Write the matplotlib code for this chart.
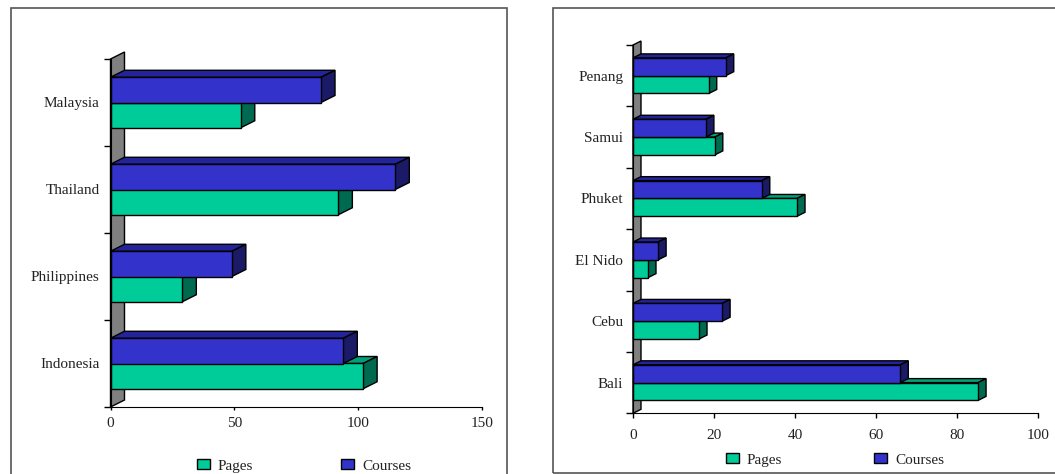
import matplotlib as mpl
mpl.use('Agg')
import matplotlib.pyplot as plt
from matplotlib.patches import Polygon, Patch, Rectangle

W, H = 1055, 474

# left chart
countries = ["Indonesia", "Philippines", "Thailand", "Malaysia"]
country_pages = [102, 29, 92, 52.6]
country_courses = [94, 49, 115, 85]
country_ticks = [0, 50, 100, 150]

# right chart
places = ["Bali", "Cebu", "El Nido", "Phuket", "Samui", "Penang"]
place_pages = [85.2, 16.3, 3.7, 40.5, 20.2, 18.7]
place_courses = [66, 22, 6.2, 31.8, 18, 22.9]
place_ticks = [0, 20, 40, 60, 80, 100]

GREEN = ("#00CC99", "#00A07A", "#006A50")
BLUE = ("#3333CC", "#24249A", "#1A1A66")

plt.rcParams['font.family'] = ['Liberation Serif']

fig = plt.figure(figsize=(W / 100, H / 100), dpi=100)


def add_bar(ax, y, h, val, dx, dy, cols, z):
    # front face is done by barh, these are the top and side faces
    top = Polygon([(0, y + h / 2), (dx, y + h / 2 + dy), (val + dx, y + h / 2 + dy), (val, y + h / 2)],
                  fc=cols[1], ec="k", lw=1, zorder=z)
    side = Polygon([(val, y - h / 2), (val + dx, y - h / 2 + dy), (val + dx, y + h / 2 + dy), (val, y + h / 2)],
                   fc=cols[2], ec="k", lw=1, zorder=z)
    ax.add_patch(top)
    ax.add_patch(side)
    ax.barh(y, val, height=h, color=cols[0], edgecolor="k", lw=1, zorder=z + 0.5)


def make_chart(box, frame, names, pages, courses, ticks, depth_px, leg_xy, colsp, xpad, ypad, xlen):
    x0, x1, y0, y1 = box
    ax = fig.add_axes([x0 / W, 1 - y0 / H, (x1 - x0) / W, (y0 - y1) / H])
    ax.patch.set_alpha(0)
    n = len(names)
    ax.set_xlim(ticks[0], ticks[-1])
    ax.set_ylim(0, n)
    dx = depth_px[0] * ticks[-1] / (x1 - x0)
    dy = depth_px[1] * n / (y0 - y1)
    h = 0.29

    # grey back wall
    ax.add_patch(Polygon([(0, 0), (dx, dy), (dx, n + dy), (0, n)], fc="#808080", ec="k", lw=1,
                         zorder=1, clip_on=False))
    for i in range(n - 1, -1, -1):
        z = 2 + (n - i) * 2
        add_bar(ax, i + 0.5 - h / 2, h, pages[i], dx, dy, GREEN, z)
        add_bar(ax, i + 0.5 + h / 2, h, courses[i], dx, dy, BLUE, z)
    for p in ax.patches:
        p.set_clip_on(False)

    for s in ["top", "right"]:
        ax.spines[s].set_visible(False)
    ax.spines["left"].set_zorder(30)
    ax.spines["bottom"].set_zorder(30)
    ax.set_xticks(ticks)
    ax.set_yticks(range(n + 1))
    ax.set_yticklabels([])
    ax.set_yticks([i + 0.5 for i in range(n)], minor=True)
    ax.set_yticklabels(names, minor=True, fontsize=11, color="#222222")
    ax.tick_params(axis="y", which="major", direction="out", length=5, width=1)
    ax.tick_params(axis="y", which="minor", length=0, pad=ypad)
    ax.tick_params(axis="x", direction="out", length=xlen, width=1, labelsize=11, labelcolor="#222222", pad=xpad)

    handles = [Patch(fc=GREEN[0], ec="k", lw=1, label="Pages"), Patch(fc=BLUE[0], ec="k", lw=1, label="Courses")]
    fig.legend(handles=handles, ncol=2, frameon=False, loc="center",
               bbox_to_anchor=(leg_xy[0] / W, 1 - leg_xy[1] / H), fontsize=11,
               handlelength=0.85, handleheight=0.55, handletextpad=0.52, columnspacing=colsp,
               labelcolor="#222222")

    fx0, fx1, fy0, fy1 = frame
    fig.add_artist(Rectangle((fx0 / W, 1 - fy1 / H), (fx1 - fx0) / W, (fy1 - fy0) / H, fill=False,
                             ec="#555555", lw=1.2, transform=fig.transFigure))


# frames run off the picture: left one at the bottom, right one at the right
make_chart((110.5, 482, 407, 59), (11, 507, 8, 478), countries, country_pages, country_courses,
           country_ticks, (14, 7), (304, 466), 5.8, 5, 8, 2.5)
make_chart((633, 1038, 413.3, 45), (553, 1060, 8, 473), places, place_pages, place_courses,
           place_ticks, (8, 4), (835, 460), 6.0, 7.5, 7, 3.5)

fig.savefig("out.png", dpi=100)
